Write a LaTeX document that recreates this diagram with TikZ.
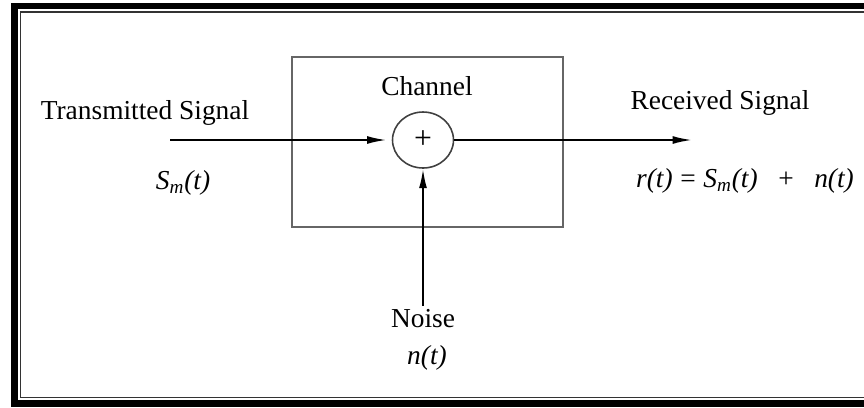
\documentclass[tikz,border=0pt]{standalone}
\usepackage{fontspec}
\setmainfont{Liberation Serif}
\usetikzlibrary{shapes.geometric}
\usetikzlibrary{arrows.meta}
\tikzset{
    lbl/.style = {font=\fontsize{15.6}{18}\selectfont, inner sep=2pt},
    mathlbl/.style = {font=\fontsize{15.6}{18}\selectfont\itshape, inner sep=2pt},
    chanbox/.style = {rectangle, draw=black!60, line width=1pt, minimum width=5.42cm, minimum height=3.4cm},
    adder/.style = {ellipse, draw=black!75, line width=0.9pt, minimum width=1.22cm, minimum height=1.12cm, inner sep=0pt, font=\fontsize{18}{20}\selectfont},
    sig/.style = {-{Latex[length=11pt,width=4.5pt]}, line width=1.1pt},
    frameout/.style = {draw=black, line width=3.8pt},
    framein/.style = {draw=black!80, line width=0.6pt}
}
\begin{document}
\begin{tikzpicture}[x=0.02cm,y=-0.02cm]
  \useasboundingbox (0,0) rectangle (864,407);
  % double frame, open to the right
  \begin{scope}
    \clip (0,0) rectangle (864,407);
    \draw[frameout] (14.5,6) rectangle (900,403.5);
    \draw[framein] (20.5,12) rectangle (900,397.5);
  \end{scope}

  \node[chanbox] (chan) at (427.5,142) {};
  \node[lbl] (chanlbl) at (427,86) {Channel};
  \node[adder] (sum) at (423,140) {+};

  \node[lbl] (txlbl) at (145,113) {Transmitted Signal};
  \node[mathlbl] (txsig) at (183,183) {S\textsubscript{m}(t)};
  \node[lbl] (rxlbl) at (720,103) {Received Signal};
  \node[mathlbl] (rxsig) at (745,181) {r(t)\;{\upshape =}\;S\textsubscript{m}(t)~~~{\upshape +}~~~n(t)};
  \node[lbl] (noise) at (423,319) {Noise};
  \node[mathlbl] (nsig) at (427,358) {n(t)};

  \coordinate (txin) at (170,140);
  \coordinate (rxout) at (692,140);

  \draw[sig,shorten >=3pt] (txin) -- (sum.west);
  \draw[sig] (sum.east) -- (rxout);
  \draw[sig] (noise.north) -- (sum.south);
\end{tikzpicture}
\end{document}
